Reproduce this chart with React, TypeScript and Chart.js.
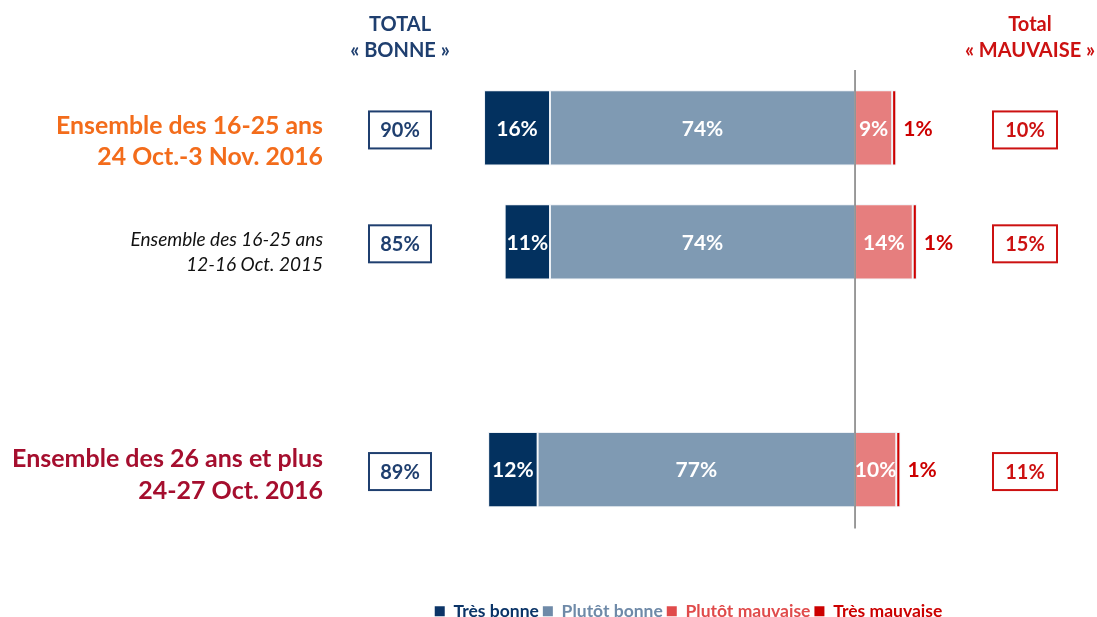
import React, { useEffect, useRef } from 'react';
import { Chart, registerables } from 'chart.js';

Chart.register(...registerables);

// ---------- data ----------
const categories = [
  'Ensemble des 16-25 ans 24 Oct.-3 Nov. 2016',
  'Ensemble des 16-25 ans 12-16 Oct. 2015',
  '',
  'Ensemble des 26 ans et plus 24-27 Oct. 2016',
];
const categoryLines: string[][] = [
  ['Ensemble des 16-25 ans', '24 Oct.-3 Nov. 2016'],
  ['Ensemble des 16-25 ans', '12-16 Oct. 2015'],
  [],
  ['Ensemble des 26 ans et plus', '24-27 Oct. 2016'],
];
const seriesNames = ['Très bonne', 'Plutôt bonne', 'Plutôt mauvaise', 'Très mauvaise'];
const tresBonne = [16, 11, null, 12];
const plutotBonne = [74, 74, null, 77];
const plutotMauvaise = [9, 14, null, 10];
const tresMauvaise = [1, 1, null, 1];
const totalBonne = [90, 85, null, 89];
const totalMauvaise = [10, 15, null, 11];
const headerBonne = ['TOTAL', '« BONNE »'];
const headerMauvaise = ['Total', '« MAUVAISE »'];

// ---------- styles ----------
const FONT = 'Lato';
const barColors = ['#03315F', '#7F9AB3', '#E67E7E', '#CC0000'];
const legendColors = ['#0B3467', '#6F8AA8', '#E04B4B', '#CC0000'];
const NAVY = '#1F3F6F';
const RED = '#CC1111';
const catStyles = [
  { font: `bold 24.8px ${FONT}`, color: '#F36C1B', offsets: [-2, 29] },
  { font: `italic 19px ${FONT}`, color: '#111111', offsets: [-2, 23] },
  { font: `bold 25px ${FONT}`, color: '#A50E2E', offsets: [-11, 21.5] },
  { font: `bold 25px ${FONT}`, color: '#A50E2E', offsets: [-11, 21.5] },
];

const neg = (arr: (number | null)[]) => arr.map((v) => (v == null ? null : -v));

const overlayPlugin = {
  id: 'overlay',
  afterDatasetsDraw(chart: any) {
    const ctx: CanvasRenderingContext2D = chart.ctx;
    const xs = chart.scales.x;
    const ys = chart.scales.y;
    const area = chart.chartArea;
    ctx.save();

    // value labels
    chart.data.datasets.forEach((ds: any, di: number) => {
      const meta = chart.getDatasetMeta(di);
      meta.data.forEach((bar: any, i: number) => {
        const raw = ds.data[i];
        if (raw == null) return;
        const val = Math.abs(raw);
        const p = bar.getProps(['x', 'y', 'base'], true);
        ctx.font = `bold 21px ${FONT}`;
        ctx.textBaseline = 'middle';
        if (di === 3) {
          ctx.fillStyle = '#CC0000';
          ctx.textAlign = 'left';
          ctx.fillText(`${val}%`, Math.max(p.x, p.base) + 7, p.y + 1);
        } else {
          ctx.fillStyle = '#FFFFFF';
          ctx.textAlign = 'center';
          ctx.fillText(`${val}%`, (p.x + p.base) / 2, p.y + 1);
        }
      });
    });

    // zero line
    const x0 = xs.getPixelForValue(0);
    ctx.strokeStyle = '#7A7A7A';
    ctx.lineWidth = 1.5;
    ctx.beginPath();
    ctx.moveTo(x0, area.top - 1);
    ctx.lineTo(x0, area.bottom + 2);
    ctx.stroke();

    // headers
    ctx.textAlign = 'center';
    ctx.textBaseline = 'middle';
    ctx.font = `bold 20px ${FONT}`;
    ctx.fillStyle = NAVY;
    ctx.fillText(headerBonne[0], 400, 25);
    ctx.fillText(headerBonne[1], 400, 51);
    ctx.fillStyle = RED;
    ctx.fillText(headerMauvaise[0], 1030, 25);
    ctx.fillText(headerMauvaise[1], 1030, 51);

    // category labels and total boxes
    categories.forEach((_c, i) => {
      const cy = ys.getPixelForValue(i);
      const lines = categoryLines[i];
      const st = catStyles[i];
      if (lines.length) {
        ctx.font = st.font;
        ctx.fillStyle = st.color;
        ctx.textAlign = 'right';
        ctx.textBaseline = 'middle';
        lines.forEach((ln, k) => ctx.fillText(ln, 323, cy + st.offsets[k]));
      }
      const drawBox = (cx: number, w: number, v: number | null, color: string) => {
        if (v == null) return;
        const by = cy + 2;
        ctx.strokeStyle = color;
        ctx.lineWidth = 2;
        ctx.strokeRect(cx - w / 2, by - 18.5, w, 37);
        ctx.fillStyle = color;
        ctx.font = `bold 20px ${FONT}`;
        ctx.textAlign = 'center';
        ctx.textBaseline = 'middle';
        ctx.fillText(`${v}%`, cx, by + 1);
      };
      drawBox(400, 62, totalBonne[i], NAVY);
      drawBox(1025, 64, totalMauvaise[i], RED);
    });

    ctx.restore();
  },
};

export default function App() {
  const ref = useRef<HTMLCanvasElement | null>(null);

  useEffect(() => {
    document.body.style.margin = '0';
    const canvas = ref.current;
    if (!canvas) return;
    const chart = new Chart(canvas, {
      type: 'bar',
      data: {
        labels: categories,
        datasets: [
          { label: seriesNames[0], data: neg(tresBonne), backgroundColor: barColors[0], order: 1 },
          { label: seriesNames[1], data: neg(plutotBonne), backgroundColor: barColors[1], order: 0 },
          { label: seriesNames[2], data: plutotMauvaise, backgroundColor: barColors[2], order: 2 },
          { label: seriesNames[3], data: tresMauvaise, backgroundColor: barColors[3], order: 3 },
        ].map((d) => ({
          ...d,
          borderColor: 'rgba(235,239,244,0.95)',
          borderWidth: 1,
          borderSkipped: false,
          categoryPercentage: 1,
          barPercentage: 0.66,
        })) as any,
      },
      options: {
        indexAxis: 'y',
        responsive: false,
        animation: false,
        devicePixelRatio: 1,
        layout: { padding: { left: 280, top: 71, right: 0, bottom: -13 } },
        scales: {
          x: {
            type: 'linear',
            stacked: true,
            min: -139.5,
            max: 58.7,
            display: true,
            grid: { display: false },
            border: { display: false },
            ticks: { display: false },
            afterFit: (s: any) => {
              s.height = 72;
            },
          },
          y: { type: 'category', stacked: true, display: false },
        },
        plugins: {
          tooltip: { enabled: false },
          legend: {
            position: 'bottom',
            labels: {
              boxWidth: 10,
              boxHeight: 10,
              padding: 4,
              font: { family: FONT, size: 17.5, weight: 'bold' },
              generateLabels: (ch: any) =>
                ch.data.datasets.map((ds: any, i: number) => ({
                  text: ds.label,
                  fillStyle: legendColors[i],
                  strokeStyle: legendColors[i],
                  lineWidth: 0,
                  fontColor: legendColors[i],
                  hidden: false,
                  datasetIndex: i,
                })),
            },
          },
        },
      } as any,
      plugins: [overlayPlugin],
    });
    return () => chart.destroy();
  }, []);

  return <canvas ref={ref} width={1097} height={617} style={{ display: 'block' }} />;
}
